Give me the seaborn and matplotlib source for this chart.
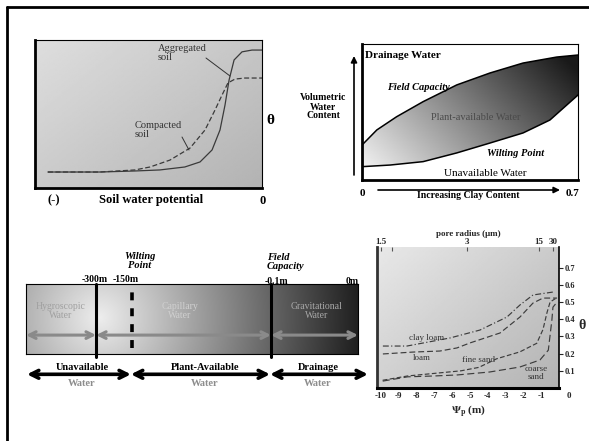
import numpy as np
import matplotlib
matplotlib.use('Agg')
import matplotlib.pyplot as plt
from matplotlib.transforms import ScaledTranslation
import seaborn as sns

# panel 1: water retention, aggregated vs compacted (x: 0..100 = (-) .. 0 potential)
agg_x = [5.7, 28.6, 44, 55, 66, 72.7, 78, 81.5, 83.7, 85.5, 87.7, 91.2, 95.6, 100]
agg_theta = [10.8, 10.8, 11.5, 12.2, 14.2, 17.6, 25.7, 39.2, 56, 73, 86.5, 92, 93.2, 93.2]
comp_x = [5.7, 28.6, 44, 50.7, 59.5, 68.3, 74.9, 79.3, 82.4, 85, 88.1, 92.5, 100]
comp_theta = [10.8, 10.8, 12.2, 14.2, 18.9, 27, 39.2, 52.7, 62.8, 71, 73.6, 74.3, 74.3]

# panel 2: field capacity / wilting point vs clay content
fc_clay = [0, 0.048, 0.112, 0.198, 0.307, 0.415, 0.522, 0.631, 0.70]
fc_water = [25.7, 36.8, 46.5, 57.6, 69.9, 78.7, 86, 90.4, 91.9]
wp_clay = [0, 0.091, 0.198, 0.307, 0.415, 0.522, 0.609, 0.70]
wp_water = [9.8, 11, 13.5, 19.9, 27.2, 34.6, 44.1, 62.5]

# panel 3: water classes bar (position along bar, %)
bar_marks = [21.1, 31.9, 73.8]
bar_mark_labels = ['-300m', '-150m', '-0.1m', '0m']
zone_names = ['Hygroscopic\nWater', 'Capillary\nWater', 'Gravitational\nWater']
zone_edges = [0, 21.1, 73.8, 100]
avail_names = ['Unavailable', 'Plant-Available', 'Drainage']
avail_edges = [0.3, 31.6, 73.5, 103]

# panel 4: retention curves for four soils
psi_ticks = [-10, -9, -8, -7, -6, -5, -4, -3, -2, -1, 0]
theta_ticks = [0.1, 0.2, 0.3, 0.4, 0.5, 0.6, 0.7]
pore_pos = [-10.0, -9.4, -5.17, -1.12, -0.34]
pore_labels = ['1.5', '', '3', '15', '30']
clayloam_psi = [-9.89, -8.54, -6.12, -4.44, -2.92, -2.19, -1.46, -0.34]
clayloam_theta = [0.244, 0.244, 0.291, 0.337, 0.413, 0.483, 0.541, 0.558]
loam_psi = [-9.89, -8.2, -6.69, -5.73, -5.0, -3.31, -2.19, -1.46, -0.9, -0.11]
loam_theta = [0.198, 0.209, 0.215, 0.233, 0.262, 0.32, 0.413, 0.494, 0.523, 0.523]
fine_psi = [-9.9, -8.5, -7, -5.5, -4.5, -3.5, -2.2, -1.25, -0.9, -0.67, -0.5, -0.2]
fine_theta = [0.045, 0.07, 0.085, 0.1, 0.12, 0.17, 0.21, 0.26, 0.34, 0.44, 0.50, 0.52]
coarse_psi = [-9.9, -8.5, -7, -5.7, -3.9, -2.2, -1.07, -0.6, -0.4, -0.34, -0.11]
coarse_theta = [0.04, 0.065, 0.07, 0.076, 0.093, 0.122, 0.163, 0.22, 0.395, 0.47, 0.50]

sns.set_style('white')
plt.rcParams['font.family'] = ['Liberation Serif', 'DejaVu Serif']
plt.rcParams['mathtext.fontset'] = 'stix'

W, H = 589, 441
fig = plt.figure(figsize=(5.89, 4.41), dpi=100)


def box(x0, y0, x1, y1):
    return [x0 / W, 1 - y1 / H, (x1 - x0) / W, (y1 - y0) / H]


def diag(top_left, bottom_right, n=120):
    u, v = np.meshgrid(np.linspace(0, 1, n), np.linspace(0, 1, n))
    return top_left + (bottom_right - top_left) * (0.55 * u + 0.45 * v)


def frame(ax, thick=('left', 'bottom')):
    ax.set_xticks([])
    ax.set_yticks([])
    for k, s in ax.spines.items():
        s.set_visible(True)
        s.set_color('black')
        s.set_linewidth(2 if k in thick else 0.8)


# ---- panel 1
ax1 = fig.add_axes(box(35, 40, 262, 188))
ax1.imshow(diag(0.87, 0.70), cmap='gray', vmin=0, vmax=1, extent=(0, 100, 0, 100),
           aspect='auto', zorder=0)
sns.lineplot(x=agg_x, y=agg_theta, ax=ax1, sort=False, estimator=None, color='#3a3a3a', lw=0.9)
sns.lineplot(x=comp_x, y=comp_theta, ax=ax1, sort=False, estimator=None, color='#3a3a3a', lw=0.9,
             linestyle=(0, (4, 2)))
ax1.set_xlim(0, 100)
ax1.set_ylim(0, 100)
frame(ax1)

# ---- panel 2
ax2 = fig.add_axes(box(362, 44, 578, 180))
poly_x = fc_clay + wp_clay[::-1]
poly_y = fc_water + wp_water[::-1]
patch = ax2.fill(poly_x, poly_y, facecolor='none', edgecolor='none')[0]
u, v = np.meshgrid(np.linspace(0, 1, 150), np.linspace(1, 0, 150))
g2 = np.clip(0.98 - 0.95 * (0.62 * u + 0.38 * v), 0.1, 1)
im = ax2.imshow(g2, cmap='gray', vmin=0, vmax=1, extent=(0, 0.7, 0, 100), aspect='auto', zorder=0)
im.set_clip_path(patch)
sns.lineplot(x=fc_clay, y=fc_water, ax=ax2, sort=False, estimator=None, color='black', lw=1.1)
sns.lineplot(x=wp_clay, y=wp_water, ax=ax2, sort=False, estimator=None, color='black', lw=1.1)
ax2.set_xlim(0, 0.7)
ax2.set_ylim(0, 100)
frame(ax2)

# ---- panel 3
ax3 = fig.add_axes(box(26, 284, 358, 354))
uu, vv = np.meshgrid(np.linspace(0, 332, 332), np.linspace(0, 70, 70))
d = np.sqrt((uu - 74) ** 2 + (vv - 34) ** 2)
ax3.imshow(np.clip(0.93 - 0.0031 * d, 0.1, 1), cmap='gray', vmin=0, vmax=1,
           extent=(0, 100, 0, 1), aspect='auto', zorder=0)
ax3.set_xlim(0, 100)
ax3.set_ylim(0, 1)
frame(ax3, thick=())
ax3.axvline(bar_marks[0], ymin=-0.04, ymax=1, color='black', lw=2.2, clip_on=False)
ax3.axvline(bar_marks[1], ymin=0.08, ymax=1, color='black', lw=2.6, linestyle=(0, (2.2, 2.2)))
ax3.axvline(bar_marks[2], ymin=-0.04, ymax=1, color='black', lw=2.2, clip_on=False)
for a, b in zip(zone_edges[:-1], zone_edges[1:]):
    ax3.annotate('', xy=(b, 0.27), xytext=(a, 0.27), annotation_clip=False,
                 arrowprops=dict(arrowstyle='<->', color='#8a8a8a', lw=2.2,
                                 mutation_scale=12, shrinkA=0, shrinkB=0))
for a, b in zip(avail_edges[:-1], avail_edges[1:]):
    ax3.annotate('', xy=(b, -0.29), xytext=(a, -0.29), annotation_clip=False,
                 arrowprops=dict(arrowstyle='<->', color='black', lw=2.6,
                                 mutation_scale=14, shrinkA=0, shrinkB=0))

# ---- panel 4
ax4 = fig.add_axes(box(377, 247, 559, 388))
ax4.imshow(diag(0.91, 0.70), cmap='gray', vmin=0, vmax=1, extent=(-10.22, 0, 0, 0.82),
           aspect='auto', zorder=0)
ls_curve = dict(sort=False, estimator=None, color='#3c3c3c', lw=0.85)
sns.lineplot(x=clayloam_psi, y=clayloam_theta, ax=ax4, linestyle=(0, (5, 2, 1, 2)), **ls_curve)
sns.lineplot(x=loam_psi, y=loam_theta, ax=ax4, linestyle=(0, (5, 2.5)), **ls_curve)
sns.lineplot(x=fine_psi, y=fine_theta, ax=ax4, linestyle=(0, (4, 2)), **ls_curve)
sns.lineplot(x=coarse_psi, y=coarse_theta, ax=ax4, linestyle=(0, (6, 3)), **ls_curve)
ax4.set_xlim(-10.22, 0)
ax4.set_ylim(0, 0.82)
for k, s in ax4.spines.items():
    s.set_visible(k != 'top')
    s.set_color('black' if k != 'left' else '#333333')
    s.set_linewidth({'left': 2, 'bottom': 2.2, 'right': 1.2}.get(k, 1))
ax4.set_xticks(psi_ticks)
ax4.set_xticklabels([str(t) for t in psi_ticks], fontweight='bold', fontsize=6.5)
ax4.tick_params(axis='x', direction='in', length=3, pad=3, color='#555555')
last = ax4.get_xticklabels()[-1]
last.set_transform(last.get_transform() + ScaledTranslation(0.1, 0, fig.dpi_scale_trans))
ax4.yaxis.tick_right()
ax4.set_yticks(theta_ticks)
ax4.set_yticklabels([f'{t:.1f}' for t in theta_ticks], fontweight='bold', fontsize=6)
ax4.tick_params(axis='y', direction='out', length=3, pad=1)
ax4.set_xlabel(r'$\mathbf{\Psi_p}$ (m)', fontweight='bold', fontsize=8, labelpad=2)
ax4.yaxis.set_label_position('right')
ax4.set_ylabel('θ', rotation=0, fontweight='bold', fontsize=10)
ax4.yaxis.set_label_coords(1.125, 0.4 / 0.82)
top = ax4.secondary_xaxis('top')
top.set_xticks(pore_pos)
top.set_xticklabels(pore_labels, fontweight='bold', fontsize=6.5)
top.tick_params(direction='in', length=3, pad=1, color='#555555')
top.spines['top'].set_visible(False)
top.set_xlabel('pore radius (μm)', fontweight='bold', fontsize=6.5, labelpad=1)

# ---- overlay with frame and annotations (pixel coordinates)
ov = fig.add_axes([0, 0, 1, 1])
ov.set_xlim(0, W)
ov.set_ylim(H, 0)
ov.axis('off')
ov.patch.set_alpha(0)
ov.plot([7, 589], [7, 7], color='black', lw=2)
ov.plot([7, 7], [7, 441], color='black', lw=2)


def t(x, y, s, size=7.5, weight='normal', style='normal', color='black', ha='center', va='center'):
    ov.text(x, y, s, fontsize=size, fontweight=weight, fontstyle=style, color=color,
            ha=ha, va=va, linespacing=1.0)


# panel 1 text
t(54, 200, '(-)', 9, 'bold')
t(151, 200, 'Soil water potential', 9, 'bold')
t(263, 201, '0', 9, 'bold')
t(270, 120, 'θ', 11, 'bold')
t(158, 44, 'Aggregated\nsoil', 7.5, color='#333333', ha='left', va='top')
ov.plot([206, 230], [58, 76], color='#333333', lw=0.7)
t(135, 121, 'Compacted\nsoil', 7.5, color='#333333', ha='left', va='top')
ov.plot([182, 189], [137, 150], color='#333333', lw=0.7)

# panel 2 text
t(365, 55, 'Drainage Water', 8, 'bold', ha='left')
t(387, 87, 'Field Capacity', 7.5, 'bold', 'italic', ha='left')
t(476, 118, 'Plant-available Water', 7.5, color='#4a4a4a')
t(516, 153, 'Wilting Point', 7.5, 'bold', 'italic')
t(485, 174, 'Unavailable Water', 8)
t(323, 107, 'Volumetric\nWater\nContent', 7, 'bold')
t(362, 193, '0', 8, 'bold')
t(573, 193, '0.7', 8, 'bold')
t(468, 196, 'Increasing Clay Content', 7, 'bold')
ov.annotate('', xy=(354, 56), xytext=(354, 175),
            arrowprops=dict(arrowstyle='-|>', color='black', lw=1.2, mutation_scale=9,
                            shrinkA=0, shrinkB=0))
ov.annotate('', xy=(560, 190), xytext=(378, 190),
            arrowprops=dict(arrowstyle='-|>', color='black', lw=1.2, mutation_scale=9,
                            shrinkA=0, shrinkB=0))

# panel 3 text
t(95, 280, bar_mark_labels[0], 7, 'bold')
t(126, 280, bar_mark_labels[1], 7, 'bold')
t(276, 281, bar_mark_labels[2], 7, 'bold')
t(352, 281, bar_mark_labels[3], 7, 'bold')
t(140, 261, 'Wilting\nPoint', 7.5, 'bold', 'italic')
t(267, 262, 'Field\nCapacity', 7.5, 'bold', 'italic', ha='left')
for cx, name, col in zip([61, 180, 317], zone_names, ['#a0a0a0', '#d0d0d0', '#a8a8a8']):
    t(cx, 311, name, 7, color=col)
for cx, name in zip([82, 205, 318], avail_names):
    t(cx, 367, name, 7.5, 'bold')
    t(cx, 383, 'Water', 7.5, 'bold', color='#8c8c8c')

# panel 4 curve labels
t(427, 338, 'clay loam', 6.5, color='#333333')
t(422, 358, 'loam', 6.5, color='#333333')
t(478, 360, 'fine sand', 6.5, color='#333333')
t(536, 373, 'coarse\nsand', 6.5, color='#333333')

fig.savefig('out.png', dpi=100)
